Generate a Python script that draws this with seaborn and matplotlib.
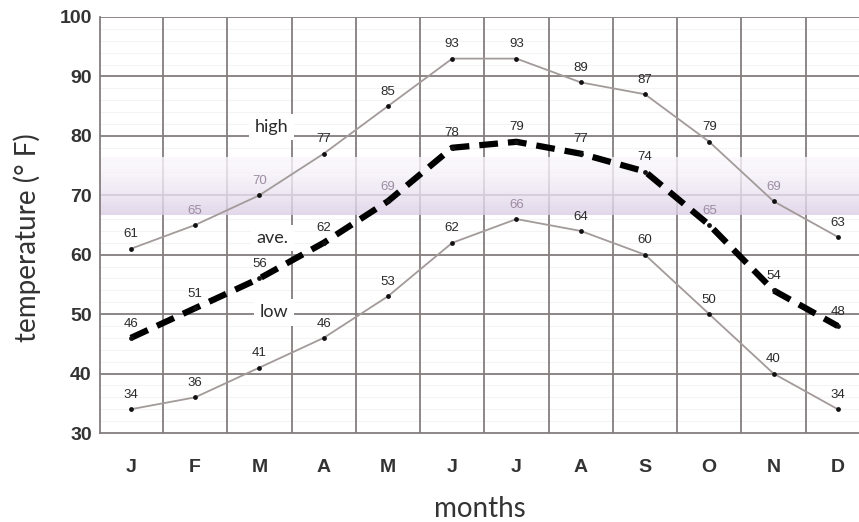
import numpy as np
import pandas as pd
import seaborn as sns
import matplotlib.pyplot as plt
from matplotlib.ticker import MultipleLocator

months = ['J', 'F', 'M', 'A', 'M', 'J', 'J', 'A', 'S', 'O', 'N', 'D']
high = [61, 65, 70, 77, 85, 93, 93, 89, 87, 79, 69, 63]
ave = [46, 51, 56, 62, 69, 78, 79, 77, 74, 65, 54, 48]
low = [34, 36, 41, 46, 53, 62, 66, 64, 60, 50, 40, 34]
band = (66.7, 76.3)

sns.set_style("white")
plt.rcParams['font.family'] = ['Liberation Sans', 'DejaVu Sans']

df = pd.DataFrame({'m': np.arange(len(months)), 'high': high, 'ave': ave, 'low': low})

fig = plt.figure(figsize=(8.59, 5.22), dpi=100)
ax = fig.add_axes([100 / 859, 1 - 433 / 522, 1 - 100 / 859, 416 / 522])

grid_c = '#857d7d'
ax.set_xlim(-0.48, 11.33)
ax.set_ylim(30, 100)

# faint minor lines, then main grid
for y in np.arange(32, 100, 2):
    ax.axhline(y, color='#f5f3f3', lw=0.8, zorder=0)
for y in range(40, 101, 10):
    ax.axhline(y, color=grid_c, lw=1.3, zorder=1)
for x in np.arange(0.5, 11, 1):
    ax.axvline(x, color=grid_c, lw=1.3, zorder=1)

# lavender band, gradient lighter at top
grad = np.linspace(0, 1, 100).reshape(-1, 1)
top = np.array([0.98, 0.97, 0.99])
bot = np.array([0.86, 0.81, 0.90])
img = top + (bot - top) * grad[..., None] ** 1.5
img = np.concatenate([img, np.full((100, 1, 1), 0.8)], axis=2)
ax.imshow(img, extent=(-0.48, 11.33, band[0], band[1]), origin='upper',
          aspect='auto', zorder=2, interpolation='bilinear')

sns.lineplot(data=df, x='m', y='high', ax=ax, color='#a39a9a', lw=1.3, zorder=3)
sns.lineplot(data=df, x='m', y='low', ax=ax, color='#a39a9a', lw=1.3, zorder=3)
sns.lineplot(data=df, x='m', y='ave', ax=ax, color='black', lw=4.5, zorder=4,
             dashes=False, linestyle=(0, (3, 1.6)))
for col in ['high', 'ave', 'low']:
    ax.scatter(df['m'], df[col], s=12, color='#111111', zorder=5, linewidths=0)

for col in ['high', 'ave', 'low']:
    for x, v in zip(df['m'], df[col]):
        c = '#9c8ca2' if 65 <= v <= 70 else '#2a2a2a'
        ax.annotate(str(v), (x, v), xytext=(0, 6), textcoords='offset points',
                    ha='center', va='bottom', fontsize=9.5, color=c, zorder=6)

for txt, y in [('high', 81.5), ('ave.', 62.8), ('low', 50.3)]:
    ax.text(2.45, y, txt, ha='right', va='center', fontsize=13, color='#2a2a2a',
            family=['Lato', 'DejaVu Sans'], fontweight='normal', zorder=6,
            bbox=dict(boxstyle='square,pad=0.3', fc='white', ec='none'))

ax.set_xticks(df['m'])
ax.set_xticklabels(months)
ax.yaxis.set_major_locator(MultipleLocator(10))
ax.tick_params(axis='both', length=0, labelsize=14, labelcolor='#333333')
ax.tick_params(axis='x', pad=19)
ax.tick_params(axis='y', pad=6)
for lab in ax.get_xticklabels() + ax.get_yticklabels():
    lab.set_fontweight('bold')

for s in ['top', 'right']:
    ax.spines[s].set_visible(False)
for s in ['left', 'bottom']:
    ax.spines[s].set_color(grid_c)
    ax.spines[s].set_linewidth(1.3)

lab_font = dict(family=['Lato', 'DejaVu Sans'], fontweight='normal', fontsize=20, color='#333333')
ax.set_xlabel('months', labelpad=14, **lab_font)
ax.set_ylabel('temperature (° F)', labelpad=10, **lab_font)
ax.yaxis.set_label_coords(-0.078, 0.47)

fig.savefig('out.png', dpi=100, facecolor='white')
